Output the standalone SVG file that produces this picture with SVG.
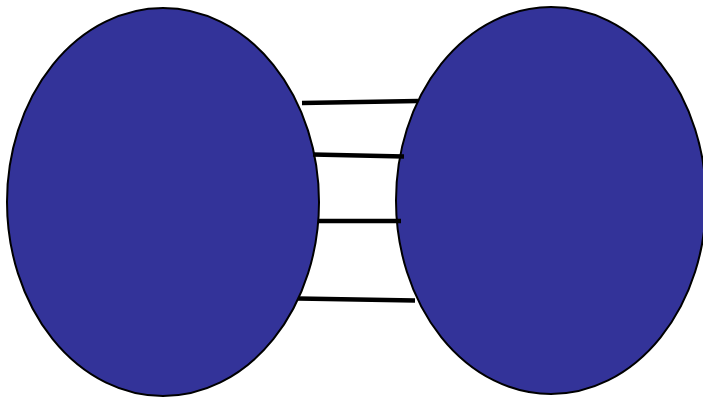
<svg xmlns="http://www.w3.org/2000/svg" width="703" height="397" viewBox="0 0 703 397">
<style>
.node{fill:#333399;stroke:#000;stroke-width:2}
.link{stroke:#000;stroke-width:4.5;fill:none}
</style>
<rect width="703" height="397" fill="#fff"/>
<g id="left"><ellipse class="node" cx="163" cy="202" rx="156" ry="194"/></g>
<g id="right"><ellipse class="node" cx="551" cy="200.5" rx="155" ry="193.5"/></g>
<g id="connectors">
<line class="link" x1="302" y1="103" x2="418" y2="101"/>
<line class="link" x1="313" y1="154.5" x2="404" y2="156.5"/>
<line class="link" x1="318" y1="221" x2="401" y2="221"/>
<line class="link" x1="298" y1="298.5" x2="415" y2="300.5"/>
</g>
</svg>
